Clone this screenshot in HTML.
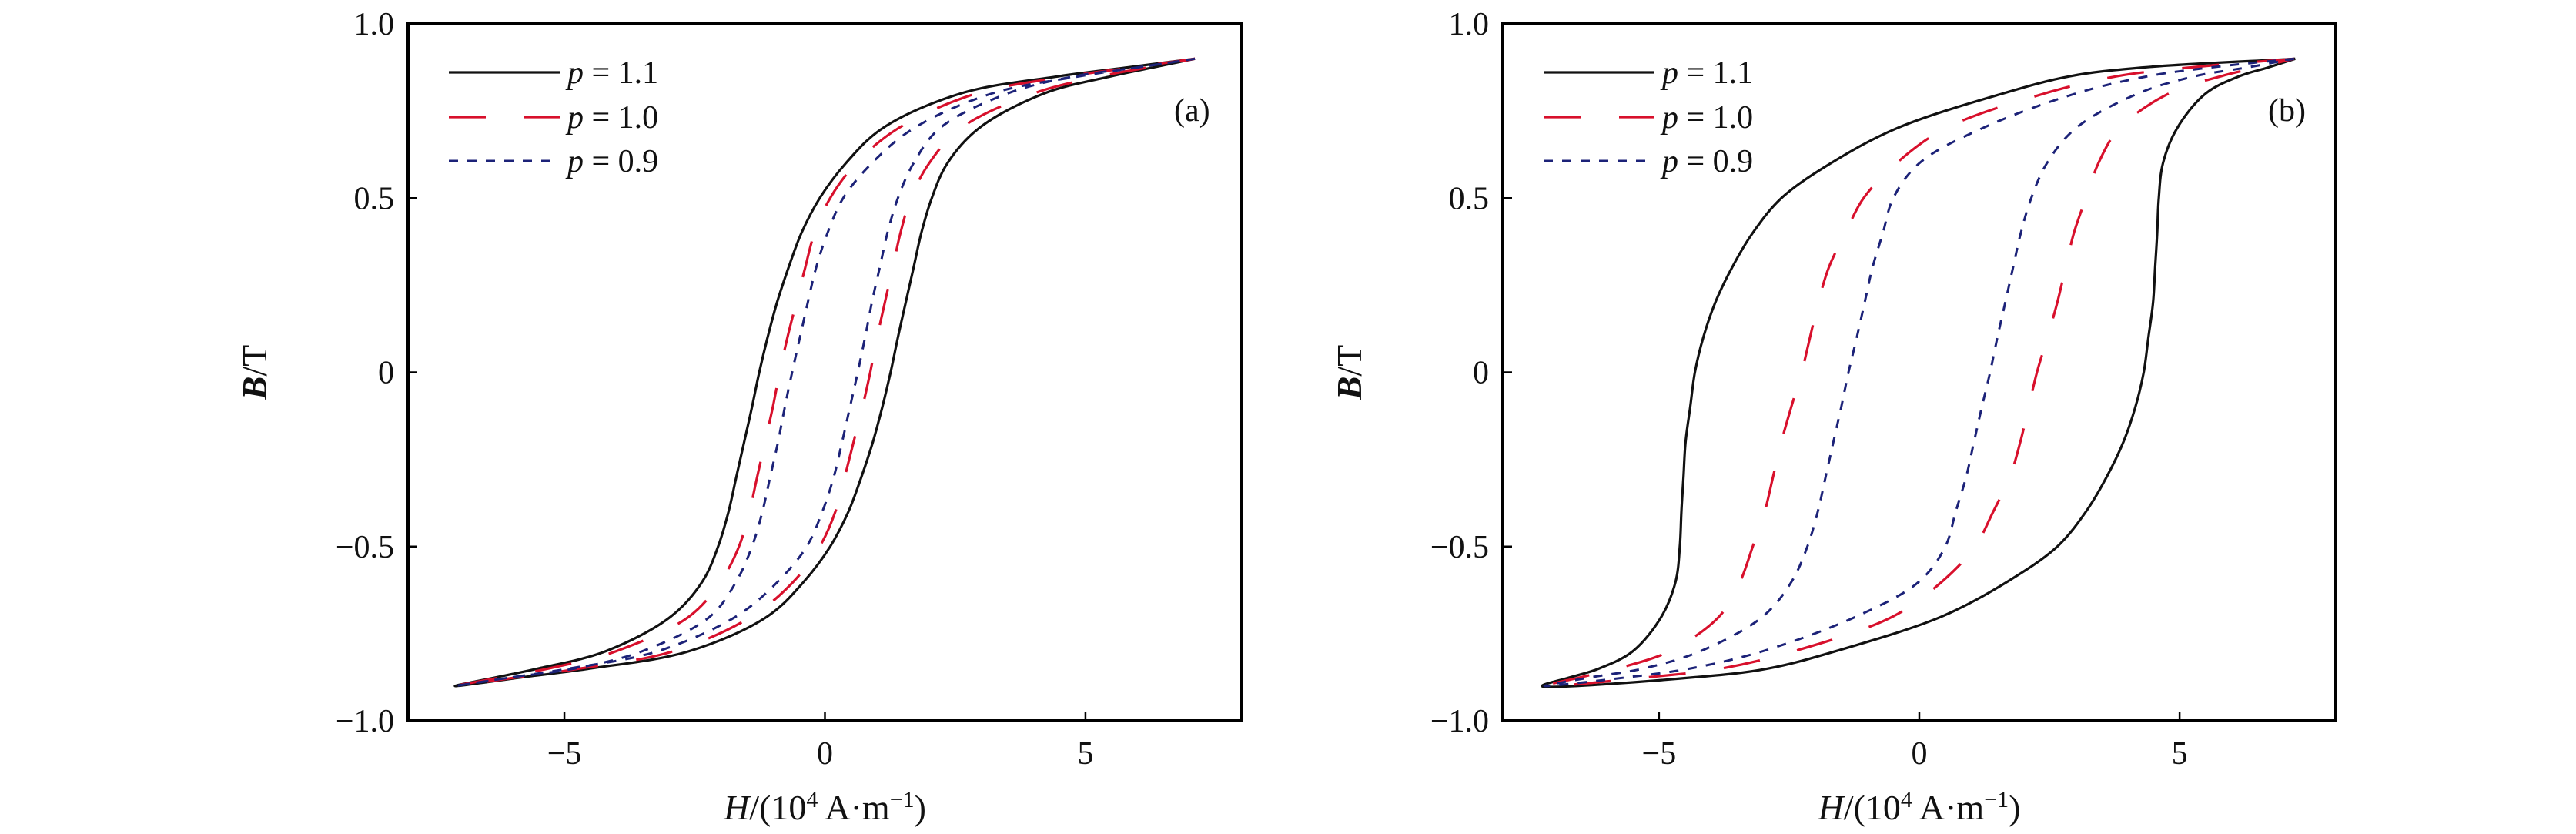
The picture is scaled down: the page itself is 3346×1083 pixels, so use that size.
<!DOCTYPE html>
<html><head><meta charset="utf-8">
<style>
html,body{margin:0;padding:0;background:#fff;}
svg{display:block;}
text{font-family:"Liberation Serif",serif;fill:#111;}
</style></head>
<body>
<svg id="fig" width="3346" height="1083" viewBox="0 0 3346 1083" xmlns="http://www.w3.org/2000/svg"></svg>
<script>
// ---- data ----
const bGrid = [-0.9,-0.875,-0.85,-0.8,-0.7,-0.6,-0.5,-0.4,-0.3,-0.2,-0.1,0,0.1,0.2,0.3,0.4,0.5,0.6,0.7,0.8,0.85,0.875,0.9];
const xTicks = [-5,0,5];
const yTicks = [-1.0,-0.5,0,0.5,1.0];
const yTickLabels = ["\u22121.0","\u22120.5","0","0.5","1.0"];
const xTickLabels = ["\u22125","0","5"];
const seriesNames = ["p = 1.1","p = 1.0","p = 0.9"];
// panel (a)
const aDesc11 = [-7.1,-6.3,-5.5,-4.2,-2.95,-2.35,-2.05,-1.85,-1.7,-1.55,-1.4,-1.26,-1.1,-0.92,-0.7,-0.45,-0.1,0.4,1.1,2.6,4.5,5.8,7.1];
const aAsc11  = [-7.1,-5.8,-4.5,-2.6,-1.1,-0.4,0.1,0.45,0.7,0.92,1.1,1.26,1.4,1.55,1.7,1.85,2.05,2.35,2.95,4.2,5.5,6.3,7.1];
const aDesc10 = [-7.1,-6.2,-5.3,-4.0,-2.6,-2.0,-1.65,-1.45,-1.3,-1.15,-1.0,-0.87,-0.72,-0.55,-0.38,-0.2,0.1,0.6,1.4,2.9,4.7,5.9,7.1];
const aAsc10  = [-7.1,-5.9,-4.7,-2.9,-1.4,-0.6,-0.1,0.2,0.38,0.55,0.72,0.87,1.0,1.15,1.3,1.45,1.65,2.0,2.6,4.0,5.3,6.2,7.1];
const aDesc09 = [-7.1,-6.0,-4.8,-3.5,-2.2,-1.7,-1.4,-1.2,-1.05,-0.9,-0.77,-0.63,-0.48,-0.33,-0.17,0.05,0.35,0.9,1.7,3.2,4.9,6.0,7.1];
const aAsc09  = [-7.1,-6.0,-4.9,-3.2,-1.7,-0.9,-0.35,-0.05,0.17,0.33,0.48,0.63,0.77,0.9,1.05,1.2,1.4,1.7,2.2,3.5,4.8,6.0,7.1];
// panel (b)
const bDesc11 = [-7.25,-6.7,-6.15,-5.5,-4.95,-4.68,-4.6,-4.57,-4.53,-4.49,-4.4,-4.31,-4.15,-3.92,-3.6,-3.2,-2.65,-1.7,-0.44,1.6,2.9,4.3,7.22];
const bAsc11  = [-7.25,-4.3,-2.9,-1.6,0.44,1.7,2.65,3.2,3.6,3.92,4.15,4.31,4.4,4.49,4.53,4.57,4.6,4.68,4.95,5.5,6.15,6.7,7.22];
const bDesc10 = [-7.2,-6.5,-5.8,-4.79,-3.84,-3.44,-3.2,-2.97,-2.81,-2.65,-2.46,-2.26,-2.1,-1.94,-1.74,-1.42,-1.07,-0.44,0.5,2.4,3.8,5.2,7.2];
const bAsc10  = [-7.2,-5.2,-3.8,-2.4,-0.5,0.44,1.07,1.42,1.74,1.94,2.1,2.26,2.46,2.65,2.81,2.97,3.2,3.44,3.84,4.79,5.8,6.5,7.2];
const bDesc09 = [-7.2,-6.3,-5.3,-4.2,-3.0,-2.45,-2.15,-1.95,-1.8,-1.65,-1.5,-1.36,-1.2,-1.05,-0.9,-0.7,-0.5,0.0,1.2,3.0,4.4,5.6,7.2];
const bAsc09  = [-7.2,-5.6,-4.4,-3.0,-1.2,0.0,0.5,0.7,0.9,1.05,1.2,1.36,1.5,1.65,1.8,1.95,2.15,2.45,3.0,4.2,5.3,6.3,7.2];

const NS = "http://www.w3.org/2000/svg";
const svg = document.getElementById('fig');
function mk(tag, attrs, parent){
  const e = document.createElementNS(NS, tag);
  for (const k in attrs) e.setAttribute(k, attrs[k]);
  (parent||svg).appendChild(e);
  return e;
}
const styles = [
  {stroke:"#111", dash:"", w:3.2},
  {stroke:"#d8102c", dash:"48 50", w:3.2},
  {stroke:"#1c2278", dash:"12 12", w:3}
];
function dist(a,b){return Math.hypot(a[0]-b[0],a[1]-b[1]);}
function splinePath(pts){
  let d = "M"+pts[0][0].toFixed(1)+","+pts[0][1].toFixed(1);
  const n = pts.length;
  for (let i=0;i<n-1;i++){
    const p0=pts[Math.max(0,i-1)], p1=pts[i], p2=pts[i+1], p3=pts[Math.min(n-1,i+2)];
    const d1=Math.pow(dist(p0,p1),0.5), d2=Math.pow(dist(p1,p2),0.5), d3=Math.pow(dist(p2,p3),0.5);
    let c1, c2;
    if (d1<1e-6 || d2<1e-6) c1=[p1[0]+(p2[0]-p1[0])/3, p1[1]+(p2[1]-p1[1])/3];
    else {
      const a=d1*d1, b=d2*d2, m=2*a+3*d1*d2+b, q=3*d1*(d1+d2);
      c1=[(a*p2[0]-b*p0[0]+m*p1[0])/q, (a*p2[1]-b*p0[1]+m*p1[1])/q];
    }
    if (d3<1e-6 || d2<1e-6) c2=[p2[0]-(p2[0]-p1[0])/3, p2[1]-(p2[1]-p1[1])/3];
    else {
      const a=d3*d3, b=d2*d2, m=2*a+3*d3*d2+b, q=3*d3*(d3+d2);
      c2=[(a*p1[0]-b*p3[0]+m*p2[0])/q, (a*p1[1]-b*p3[1]+m*p2[1])/q];
    }
    d += " C"+c1[0].toFixed(1)+","+c1[1].toFixed(1)+" "+c2[0].toFixed(1)+","+c2[1].toFixed(1)+" "+p2[0].toFixed(1)+","+p2[1].toFixed(1);
  }
  return d;
}
function panel(id, L, R, T, B, descs, ascs, tag){
  const g = mk('g', {});
  
  
  const xs = v => L + (v+8)/16*(R-L);
  const ys = v => B - (v+1)/2*(B-T);
  for (let s=0;s<3;s++){
    const pts=[];
    for (let i=bGrid.length-1;i>=0;i--) pts.push([xs(descs[s][i]), ys(bGrid[i])]);
    for (let i=1;i<bGrid.length;i++) pts.push([xs(ascs[s][i]), ys(bGrid[i])]);
    const p = mk('path', {d:splinePath(pts), fill:"none", stroke:styles[s].stroke, "stroke-width":styles[s].w, "stroke-dasharray":styles[s].dash, "stroke-linejoin":"round"}, g);
    
    
  }
  const f = mk('rect', {x:L, y:T, width:R-L, height:B-T, fill:"none", stroke:"#000", "stroke-width":4}, g);
  
  
  xTicks.forEach((v,i)=>{
    const x = xs(v);
    const t = mk('line', {x1:x, x2:x, y1:B, y2:B-12, stroke:"#000", "stroke-width":2.5}, g);
    
    
    const tl = mk('text', {x:x, y:992, "text-anchor":"middle", "font-size":42}, g);
    tl.textContent = xTickLabels[i];
    
    
  });
  yTicks.forEach((v,i)=>{
    const y = ys(v);
    const t = mk('line', {x1:L, x2:L+12, y1:y, y2:y, stroke:"#000", "stroke-width":2.5}, g);
    
    
    const tl = mk('text', {x:L-18, y:y+14, "text-anchor":"end", "font-size":42}, g);
    tl.textContent = yTickLabels[i];
    
    
  });
  const yt = mk('text', {transform:"translate("+(L-184)+","+((T+B)/2)+") rotate(-90)", "text-anchor":"middle", "font-size":46}, g);
  yt.innerHTML = '<tspan font-style="italic" font-weight="bold">B</tspan>/T';
  
  
  const xt = mk('text', {x:(L+R)/2, y:1064, "text-anchor":"middle", "font-size":46}, g);
  xt.innerHTML = '<tspan font-style="italic">H</tspan>/(10<tspan font-size="30" dy="-16">4</tspan><tspan dy="16"> A\u00b7m</tspan><tspan font-size="30" dy="-16">\u22121</tspan><tspan dy="16">)</tspan>';
  
  
  const lg = mk('g', {}, g);
  
  
  const rows=[94,152,209];
  for (let s=0;s<3;s++){
    const ln = mk('line', {x1:L+53, x2:L+197, y1:T+rows[s]-31, y2:T+rows[s]-31, stroke:styles[s].stroke, "stroke-width":styles[s].w, "stroke-dasharray":styles[s].dash}, lg);
    
    
    const lt = mk('text', {x:L+207, y:T+rows[s]-31+14, "font-size":42}, lg);
    lt.innerHTML = '<tspan font-style="italic">p</tspan> = '+seriesNames[s].split('= ')[1];
    
    
  }
  const pl = mk('text', {x:R-88, y:T+126, "font-size":42}, g);
  pl.textContent = tag;
  
  
}
panel('a', 530, 1613, 31, 936, [aDesc11,aDesc10,aDesc09], [aAsc11,aAsc10,aAsc09], '(a)');
panel('b', 1952, 3034, 31, 936, [bDesc11,bDesc10,bDesc09], [bAsc11,bAsc10,bAsc09], '(b)');
</script>
</body></html>
